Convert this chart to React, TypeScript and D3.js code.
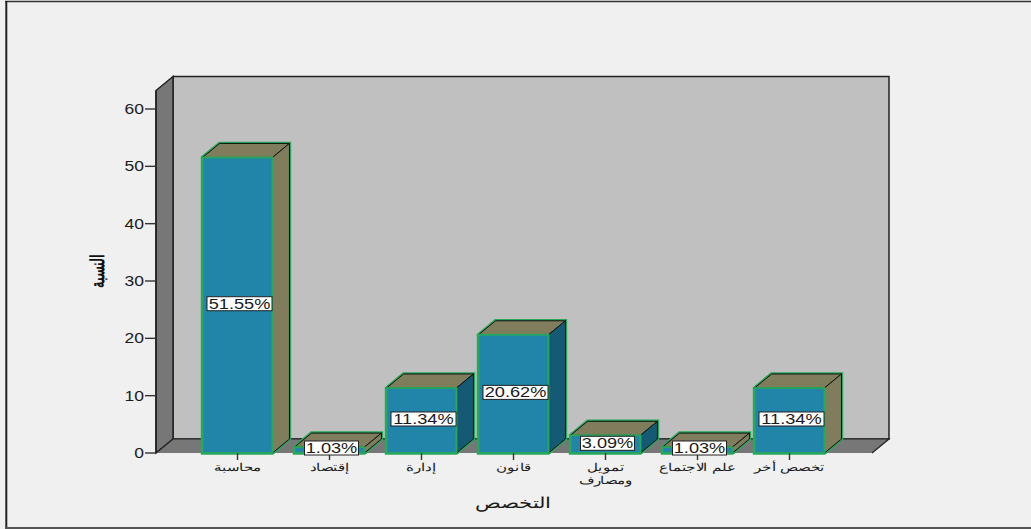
import React from "react";
import * as d3 from "d3";

const categories = ["محاسبة", "إقتصاد", "إدارة", "قانون", "تمويل ومصارف", "علم الاجتماع", "تخصص أخر"];
const values = [51.55, 1.03, 11.34, 20.62, 3.09, 1.03, 11.34];
const labels = ["51.55%", "1.03%", "11.34%", "20.62%", "3.09%", "1.03%", "11.34%"];
const darkSide = [false, false, true, true, true, false, false];
const yTicks = [0, 10, 20, 30, 40, 50, 60];

const W = 1031, H = 529;
const DX = 17, DY = -14;
const FONT = "'Liberation Sans', Arial, sans-serif";
const y = d3.scaleLinear().domain([0, 60]).range([453, 109]);
const x = d3.scaleBand<number>().domain(d3.range(categories.length)).range([191.5, 835.5]).paddingInner(0.24).paddingOuter(0.12);
const yTop = 90.5;
const x0 = 156, x1 = 872;
const line = d3.line();
const poly = (pts: number[][]) => line(pts as [number, number][]) + "Z";

function Stretch(p: { x: number; y: number; sx: number; size: number; anchor?: string; bold?: boolean; rtl?: boolean; children: any }) {
  return (
    <text transform={`translate(${p.x},${p.y}) scale(${p.sx},1)`} textAnchor={p.anchor ?? "middle"} fontFamily={FONT}
      fontSize={p.size} fontWeight={p.bold ? 700 : 400} fill="#1a1a1a" direction={p.rtl ? "rtl" : undefined}>
      {p.children}
    </text>
  );
}

export default function App() {
  const bw = x.bandwidth();
  return (
    <svg width={W} height={H} viewBox={`0 0 ${W} ${H}`} style={{ position: "absolute", left: 0, top: 0, background: "#f0f0f0" }}>
      {/* frame */}
      <line x1={5} x2={W} y1={1.5} y2={1.5} stroke="#333" strokeWidth={1.5} />
      <line x1={6.3} x2={6.3} y1={1} y2={528} stroke="#222" strokeWidth={2} />
      <line x1={5} x2={W} y1={528} y2={528} stroke="#555" strokeWidth={2} />
      {/* walls */}
      <path d={poly([[x0 + DX, yTop + DY], [x1 + DX, yTop + DY], [x1 + DX, y(0) + DY], [x0 + DX, y(0) + DY]])} fill="#c0c0c0" stroke="#222" strokeWidth={1.5} />
      <path d={poly([[x0, yTop], [x0 + DX, yTop + DY], [x0 + DX, y(0) + DY], [x0, y(0)]])} fill="#777" stroke="#222" strokeWidth={1.5} />
      <path d={poly([[x0, y(0)], [x0 + DX, y(0) + DY], [x1 + DX, y(0) + DY], [x1, y(0)]])} fill="#777" />
      <path d={line([[x0, y(0)], [x0 + DX, y(0) + DY], [x1 + DX, y(0) + DY], [x1, y(0)]] as [number, number][])!} fill="none" stroke="#222" strokeWidth={1.2} />
      {/* y axis */}
      <line x1={x0} x2={x0} y1={yTop} y2={y(0)} stroke="#222" strokeWidth={1.5} />
      {yTicks.map((t) => (
        <g key={t}>
          <line x1={x0 - 11} x2={x0} y1={y(t)} y2={y(t)} stroke="#333" strokeWidth={1.4} />
          <Stretch x={x0 - 12} y={y(t) + 5} sx={1.25} size={14} anchor="end">{t}</Stretch>
        </g>
      ))}
      {/* bars */}
      {values.map((v, i) => {
        const l = x(i)!, r = l + bw, t = y(v), b = y(0);
        const top = [[l, t], [l + DX, t + DY], [r + DX, t + DY], [r, t]];
        const side = [[r, t], [r + DX, t + DY], [r + DX, b + DY], [r, b]];
        return (
          <g key={i}>
            <path d={poly([[l, t], [l + DX, t + DY], [r + DX, t + DY], [r + DX, b + DY], [r, b], [l, b]])} fill="none" stroke="#27a85a" strokeWidth={3.5} />
            <path d={poly(top)} fill="#7f7d5c" stroke="#111" strokeWidth={1} />
            <path d={poly(side)} fill={darkSide[i] ? "#155a75" : "#7f7d5c"} stroke="#111" strokeWidth={1} />
            <rect x={l} y={t} width={bw} height={b - t} fill="#2185aa" stroke="#27a85a" strokeWidth={1.8} />
          </g>
        );
      })}
      {/* x ticks and labels */}
      {categories.map((c, i) => {
        const cx = x(i)! + bw / 2;
        const parts = c === "تمويل ومصارف" ? c.split(" ") : [c];
        return (
          <g key={c}>
            <line x1={cx} x2={cx} y1={y(0)} y2={y(0) + 7} stroke="#333" strokeWidth={1.4} />
            {parts.map((p, k) => (
              <Stretch key={k} x={cx} y={471 + k * 13} sx={1.37} size={10.5} rtl>{p}</Stretch>
            ))}
          </g>
        );
      })}
      {/* data labels */}
      {values.map((v, i) => {
        const cx = x(i)! + bw / 2 + 2;
        const w = labels[i].length === 6 ? 65 : 54;
        const cy = v < 2 ? y(0) - 5 : v < 5 ? y(v) + 8 : (y(v) + y(0)) / 2 - 1.5;
        return (
          <g key={i}>
            <rect x={cx - w / 2} y={cy - 7} width={w} height={14} fill="#fff" stroke="#222" strokeWidth={1} />
            <Stretch x={cx} y={cy + 5} sx={1.3} size={14}>{labels[i]}</Stretch>
          </g>
        );
      })}
      {/* axis titles */}
      <Stretch x={513} y={508} sx={1.42} size={15} rtl>التخصص</Stretch>
      <text transform="translate(104,271.5) rotate(-90) scale(0.85,1.25)" textAnchor="middle" fontFamily={FONT} fontSize={15} fontWeight={700} fill="#111" direction="rtl">النسبة</text>
    </svg>
  );
}
